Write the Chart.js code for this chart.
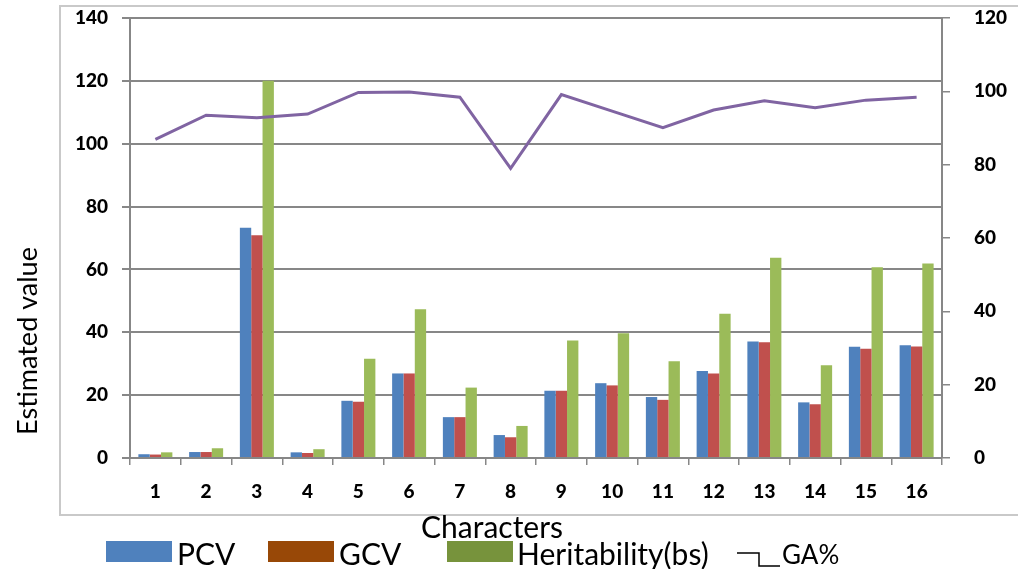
<!DOCTYPE html>
<html>
<head>
<meta charset="utf-8">
<script src="https://cdn.jsdelivr.net/npm/chart.js@4.4.1/dist/chart.umd.min.js"></script>
<style>
  html, body { margin: 0; padding: 0; background: #ffffff; }
  #wrap { width: 1018px; height: 569px; position: relative; }
</style>
</head>
<body>
<div id="wrap"><canvas id="c" width="1018" height="569"></canvas></div>
<script>
// ---- data ----
const categories = ['1','2','3','4','5','6','7','8','9','10','11','12','13','14','15','16'];
const pcv          = [1.2, 1.9, 73.3, 1.8, 18.2, 26.9, 13.0, 7.3, 21.4, 23.8, 19.4, 27.7, 37.1, 17.7, 35.4, 35.9];
const gcv          = [1.1, 1.9, 70.9, 1.6, 17.9, 26.9, 13.0, 6.6, 21.4, 23.1, 18.5, 26.9, 36.8, 17.1, 34.8, 35.5];
const heritability = [1.8, 3.1, 120.0, 2.8, 31.6, 47.3, 22.4, 10.2, 37.4, 39.7, 30.8, 45.9, 63.7, 29.5, 60.7, 61.9];
const gaPercent    = [86.9, 93.5, 92.8, 93.8, 99.7, 99.8, 98.4, 79.0, 99.1, 94.6, 90.1, 94.9, 97.4, 95.5, 97.6, 98.4];
const leftTickMax = 140, leftTickStep = 20;
const rightTickMax = 120, rightTickStep = 20;
const seriesNames = ['PCV', 'GCV', 'Heritability(bs)', 'GA%'];
const xTitle = 'Characters';
const yTitle = 'Estimated value';

// ---- styles ----
const barColors = ['#4F81BD', '#C0504D', '#9BBB59'];
const legendColors = ['#4F81BD', '#984807', '#77933C'];
const lineColor = '#8064A2';
const axisGray = '#878787';
const frameGray = '#C9C9C9';
const tickFont = { family: 'Lato', size: 19, weight: '900' };

const decor = {
  id: 'decor',
  beforeDraw(chart) {
    const ctx = chart.ctx;
    ctx.save();
    ctx.fillStyle = '#ffffff';
    ctx.fillRect(0, 0, chart.width, chart.height);
    ctx.strokeStyle = frameGray;
    ctx.lineWidth = 2;
    ctx.beginPath();
    ctx.moveTo(1018, 6); ctx.lineTo(60, 6); ctx.lineTo(60, 515); ctx.lineTo(1018, 515);
    ctx.stroke();
    ctx.restore();
  },
  afterDraw(chart) {
    const ctx = chart.ctx;
    ctx.save();
    ctx.fillStyle = '#000000';
    // y title
    ctx.save();
    ctx.translate(28, 341);
    ctx.rotate(-Math.PI / 2);
    ctx.font = '27px Lato';
    ctx.textAlign = 'center';
    ctx.textBaseline = 'middle';
    ctx.fillText(yTitle, 0, 0);
    ctx.restore();
    // x title
    ctx.font = '30px Lato';
    ctx.textAlign = 'center';
    ctx.textBaseline = 'alphabetic';
    ctx.fillText(xTitle, 492, 538);
    // legend
    const boxes = [[106, 172], [268, 334], [447, 513]];
    const texts = [177, 339, 517];
    ctx.textAlign = 'left';
    ctx.font = '30px Lato';
    for (let i = 0; i < 3; i++) {
      ctx.fillStyle = legendColors[i];
      ctx.fillRect(boxes[i][0], 541, boxes[i][1] - boxes[i][0], 21);
      ctx.fillStyle = '#000000';
      ctx.fillText(seriesNames[i], texts[i], 565);
    }
    ctx.strokeStyle = '#000000';
    ctx.lineWidth = 1.5;
    ctx.beginPath();
    ctx.moveTo(737, 553); ctx.lineTo(759, 553); ctx.lineTo(759, 566); ctx.lineTo(780, 566);
    ctx.stroke();
    ctx.font = '26px Lato';
    ctx.fillText(seriesNames[3], 782, 564);
    ctx.restore();
  }
};

new Chart(document.getElementById('c'), {
  type: 'bar',
  data: {
    labels: categories,
    datasets: [
      { type: 'line', label: seriesNames[3], data: gaPercent, yAxisID: 'y1', borderColor: lineColor,
        backgroundColor: lineColor, borderWidth: 3, pointRadius: 0, tension: 0, order: 0 },
      { label: seriesNames[0], data: pcv, backgroundColor: barColors[0], yAxisID: 'y', order: 1 },
      { label: seriesNames[1], data: gcv, backgroundColor: barColors[1], yAxisID: 'y', order: 1 },
      { label: seriesNames[2], data: heritability, backgroundColor: barColors[2], yAxisID: 'y', order: 1 }
    ]
  },
  options: {
    responsive: false,
    animation: false,
    events: [],
    datasets: { bar: { categoryPercentage: 0.67, barPercentage: 1.0, borderWidth: 0 } },
    layout: { padding: { top: 18, bottom: 31, left: 0, right: 0 } },
    plugins: { legend: { display: false }, tooltip: { enabled: false } },
    scales: {
      x: {
        grid: { display: true, offset: true, drawOnChartArea: false, color: axisGray, lineWidth: 1.5, tickLength: 7 },
        border: { color: axisGray, width: 2 },
        ticks: { font: tickFont, color: '#000', padding: 15, maxRotation: 0 },
        afterFit(s) { s.height = 80; s.paddingLeft = 0; s.paddingRight = 0; }
      },
      y: {
        position: 'left', min: 0, max: leftTickMax,
        grid: { color: axisGray, lineWidth: 2, tickLength: 8 },
        border: { color: axisGray, width: 2 },
        ticks: { stepSize: leftTickStep, font: tickFont, color: '#000', padding: 14 },
        afterFit(s) { s.width = 130; s.paddingTop = 0; s.paddingBottom = 0; }
      },
      y1: {
        position: 'right', min: 0, max: rightTickMax,
        grid: { drawOnChartArea: false, color: axisGray, lineWidth: 1.5, tickLength: 8 },
        border: { color: axisGray, width: 2 },
        ticks: { stepSize: rightTickStep, font: tickFont, color: '#000', padding: 24 },
        afterFit(s) { s.width = 76; s.paddingTop = 0; s.paddingBottom = 0; }
      }
    }
  },
  plugins: [decor]
});
</script>
</body>
</html>
